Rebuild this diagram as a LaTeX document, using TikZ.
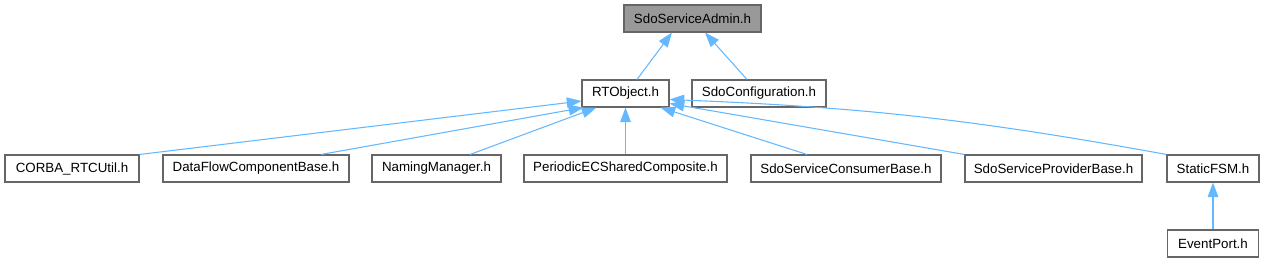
\documentclass[tikz,border=0pt]{standalone}
\usepackage{fontspec}
\setmainfont{Liberation Sans}
\usetikzlibrary{arrows.meta,calc}
\definecolor{edgec}{HTML}{63B8FF}
\definecolor{boxline}{HTML}{666666}
\definecolor{rootfill}{HTML}{999999}
\begin{document}
\begin{tikzpicture}[x=0.75pt,y=-0.75pt,
  box/.style={draw=boxline, line width=0.8pt, fill=white, minimum height=20.25pt,
    inner sep=0pt, text=black, font=\fontsize{10}{12}\selectfont},
  bx/.style={box, minimum width=#1*0.75pt},
  edge/.style={draw=edgec, line width=0.8pt, -{Triangle[length=11pt,width=8pt,fill=edgec]}}]
\useasboundingbox (0,0) rectangle (1266,261);
\node[bx=137, fill=rootfill] (admin) at (692.5,18.5) {SdoServiceAdmin.h};
\node[bx=87] (rto) at (625.5,93.5) {RTObject.h};
\node[bx=134] (conf) at (759,93.5) {SdoConfiguration.h};
\node[bx=134] (corba) at (72,168.5) {CORBA\_RTCUtil.h};
\node[bx=186] (dfc) at (256,168.5) {DataFlowComponentBase.h};
\node[bx=129] (nm) at (436.5,168.5) {NamingManager.h};
\node[bx=203] (pec) at (625.5,168.5) {PeriodicECSharedComposite.h};
\node[bx=190] (cons) at (846,168.5) {SdoServiceConsumerBase.h};
\node[bx=177] (prov) at (1053.5,168.5) {SdoServiceProviderBase.h};
\node[bx=92] (fsm) at (1213,168.5) {StaticFSM.h};
\node[bx=91] (ep) at (1213,243.5) {EventPort.h};

\draw[edge] ($(rto.north)+(11.5,0)$) -- ($(admin.south)+(-20.5,0)$);
\draw[edge] ($(conf.north)+(-12,0)$) -- ($(admin.south)+(12.5,0)$);
\draw[edge] (corba.north east) -- ($(rto.west)+(0,7.5)$);
\draw[edge] ($(dfc.north)+(65,0)$) -- ($(rto.south west)+(2,0)$);
\draw[edge] ($(nm.north)+(33.5,0)$) -- ($(rto.south west)+(15,0)$);
\draw[edge] (pec.north) -- (rto.south);
\draw[edge] ($(cons.north)+(-39,0)$) -- ($(rto.south east)+(-9,0)$);
\draw[edge] (prov.north west) -- ($(rto.east)+(0,10)$);
\draw[edge] (fsm.north west) to[bend right=4] ($(rto.east)+(0,6)$);
\draw[edge] (ep.north) -- (fsm.south);
\end{tikzpicture}
\end{document}
